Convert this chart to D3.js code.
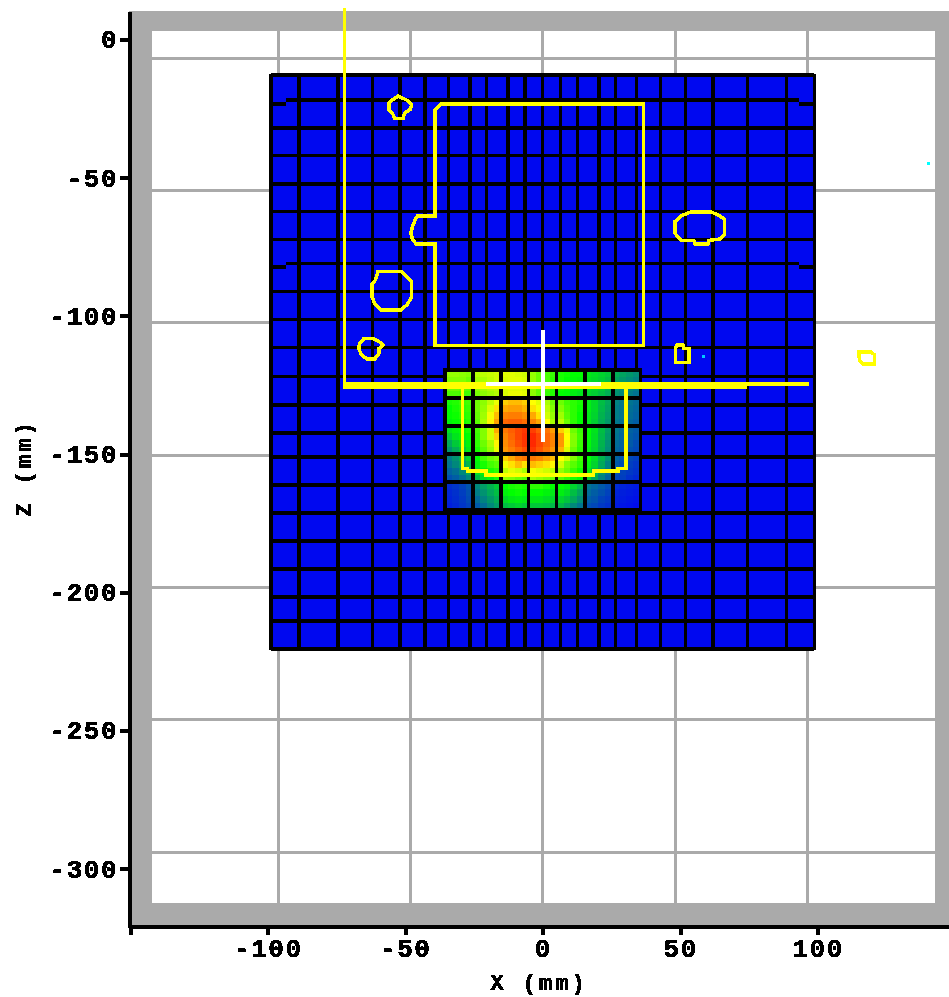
<!DOCTYPE html>
<html>
<head>
<meta charset="utf-8">
<script src="https://cdnjs.cloudflare.com/ajax/libs/d3/7.8.5/d3.min.js"></script>
<style>
  html, body { margin: 0; padding: 0; background: #fff; }
  svg { display: block; }
  .label text, .tick text { font-family: "Liberation Mono", monospace; font-weight: bold; fill: #000; stroke: #000; stroke-width: 0.7px; }
</style>
</head>
<body>
<div id="graph"></div>
<script>
// Axis ticks and grid lines (mm). The grid is not aligned with the ticks in the original.
const xTicks = [-150, -100, -50, 0, 50, 100];
const yTicks = [0, -50, -100, -150, -200, -250, -300];
const xGridLines = [-100, -50, 0, 50, 100];
const yGridLines = [0, -50, -100, -150, -200, -250, -300];

// Coarse mesh (mm)
const meshCols = [-98.8, -88.7, -74.5, -62, -52, -42.9, -34.2, -26.5, -20.4, -12.6, -6.4, 0,
  6.4, 12.6, 20.4, 26.5, 34.2, 42.9, 52, 62, 74.5, 88.7, 98.8];
const meshRows = [-12.9, -21.9, -32, -42.1, -52.3, -62.4, -72.5, -81.2, -91.4, -101.5, -111.7, -122.1,
  -132.4, -142.6, -151.3, -161.4, -171.6, -181.7, -191.8, -202, -210.7, -220.8];
const jogRows = [-21.9, -81.2];
const jogOffset = -1.4;
const jogEnd = 93.4;

// Fine mesh around the source (mm)
const patchCols = [-35.6, -25.3, -15.1, -5.1, 5.1, 15.3, 25.5, 35.5];
const patchRows = [-119.7, -129.9, -140, -150.2, -160.3, -170.5];

// Field values in the fine mesh, four samples per tile (percent)
const fieldValues = [
  [64, 64, 63, 62, 67, 68, 69, 70, 72, 72, 71, 70, 64, 60, 57, 55, 52, 51, 50, 50, 46, 44, 42, 40, 35, 33, 31, 29],
  [62, 62, 62, 60, 65, 66, 68, 70, 71, 72, 72, 71, 64, 60, 57, 54, 52, 50, 49, 48, 45, 43, 41, 38, 33, 31, 29, 27],
  [60, 60, 59, 58, 63, 65, 67, 68, 71, 72, 72, 71, 63, 59, 56, 53, 51, 50, 48, 47, 44, 42, 40, 36, 31, 29, 28, 26],
  [57, 57, 56, 56, 61, 63, 65, 67, 71, 73, 73, 72, 63, 59, 55, 53, 50, 49, 47, 45, 43, 41, 38, 35, 30, 28, 26, 24],
  [52, 53, 55, 56, 60, 63, 68, 73, 80, 82, 82, 80, 75, 72, 66, 60, 60, 56, 54, 52, 47, 43, 38, 34, 27, 25, 24, 22],
  [50, 52, 54, 55, 60, 64, 71, 78, 84, 85, 85, 83, 78, 74, 68, 62, 62, 57, 54, 51, 47, 43, 37, 33, 26, 24, 23, 21],
  [50, 51, 53, 54, 59, 65, 74, 82, 88, 89, 89, 87, 84, 78, 70, 64, 65, 58, 54, 50, 46, 42, 36, 32, 26, 24, 22, 20],
  [48, 50, 51, 53, 58, 66, 76, 85, 92, 93, 93, 91, 88, 84, 75, 66, 68, 60, 54, 50, 46, 41, 35, 31, 25, 23, 21, 19],
  [45, 48, 50, 52, 56, 62, 70, 84, 90, 93, 96, 98, 97, 93, 90, 85, 80, 73, 60, 55, 50, 45, 38, 32, 25, 22, 20, 18],
  [40, 45, 48, 50, 55, 62, 70, 80, 88, 92, 96, 99, 100, 96, 92, 88, 86, 75, 62, 56, 50, 44, 37, 31, 24, 21, 19, 17],
  [34, 40, 44, 48, 54, 60, 66, 76, 87, 91, 95, 98, 100, 96, 92, 88, 86, 74, 62, 55, 49, 43, 36, 30, 22, 20, 18, 15],
  [30, 35, 40, 46, 52, 58, 64, 73, 86, 89, 92, 95, 98, 94, 90, 86, 83, 71, 60, 54, 48, 42, 35, 29, 21, 19, 16, 14],
  [26, 30, 35, 42, 50, 56, 60, 62, 80, 84, 88, 90, 90, 88, 85, 82, 75, 70, 62, 56, 50, 44, 36, 30, 20, 17, 14, 12],
  [24, 28, 32, 37, 48, 52, 56, 58, 74, 78, 82, 78, 82, 80, 78, 76, 70, 62, 58, 54, 48, 42, 34, 27, 18, 15, 12, 10],
  [20, 23, 28, 33, 44, 48, 52, 54, 68, 72, 70, 66, 74, 72, 70, 68, 64, 60, 55, 51, 46, 38, 30, 24, 16, 13, 11, 9],
  [16, 19, 23, 28, 38, 44, 48, 52, 63, 62, 60, 58, 66, 64, 62, 60, 58, 55, 52, 50, 43, 34, 27, 21, 14, 12, 9, 7],
  [8, 10, 13, 17, 28, 32, 36, 40, 50, 52, 53, 52, 54, 54, 52, 50, 50, 48, 42, 37, 24, 21, 18, 15, 8, 6, 5, 4],
  [7, 9, 12, 16, 26, 30, 34, 38, 48, 50, 51, 50, 50, 50, 48, 46, 47, 44, 38, 33, 22, 19, 16, 13, 6, 5, 4, 3],
  [6, 8, 11, 15, 22, 27, 31, 35, 43, 46, 47, 46, 46, 46, 44, 42, 42, 39, 34, 29, 19, 17, 13, 11, 5, 4, 3, 2],
  [5, 7, 10, 13, 18, 23, 28, 32, 38, 40, 42, 40, 40, 40, 39, 37, 37, 33, 28, 24, 16, 14, 11, 9, 4, 3, 2, 1]
];

// Structure contours (mm)
const bodyContour = [[-39.1, -25.5], [-37.1, -23.4], [36.7, -23.4], [36.7, -110.9], [-39.1, -110.9], [-39.1, -74.1],
  [-46, -74.1], [-47.3, -72.6], [-48, -70.1], [-47.3, -67.6], [-46.4, -65.4], [-45.6, -63.9], [-39.1, -63.9]];
const contour1 = [[-52.6, -20.5], [-49.6, -21.9], [-47.7, -23.7], [-48.1, -25.3], [-50.2, -26.7], [-50.8, -28.6],
  [-53.8, -28.6], [-54.7, -26.7], [-56, -25.5], [-56, -23.1], [-54.4, -21.7]];
const contour2 = [[-59.9, -84], [-51.4, -84], [-49.6, -85.9], [-47.7, -87.8], [-47.7, -93.4], [-49.2, -95.9],
  [-51.4, -98], [-59, -98], [-61.1, -95.9], [-62.1, -93.2], [-62.1, -88.6], [-60.8, -87.1]];
const contour3 = [[-65, -108.3], [-61.7, -108.3], [-59.5, -109.5], [-58.1, -110.8], [-59.5, -111.9], [-59.5, -113.7],
  [-60.5, -114.9], [-61.1, -115.8], [-63.9, -115.8], [-65.9, -114.3], [-67, -111.9], [-66.5, -110.1]];
const contour4 = [[53.8, -62.6], [61.5, -62.6], [64.1, -63.8], [66.1, -65.1], [66.1, -70.6], [64.4, -72.3],
  [60.5, -72.8], [60.1, -74.2], [55.4, -74.2], [55, -72.8], [50.4, -72.8], [49.2, -71.5], [48.1, -70.2],
  [48.1, -66], [49.2, -65.1], [50.4, -63.8]];
const contour5 = [[48.8, -110.7], [51, -110.7], [51.3, -111.9], [53.2, -111.9], [53.2, -117.1], [48.3, -117.1], [48.3, -111.7]];
const contour6 = [[114.9, -113.2], [119.5, -113.2], [120.7, -114.3], [120.7, -117.6], [116.5, -117.6], [115.3, -116.4]];
const closedContours = [bodyContour, contour1, contour2, contour3, contour4, contour5, contour6];

const lowerContour = [[-29.1, -125.2], [-29.1, -155.4], [-27.4, -155.4], [-27.4, -156.4], [-20.7, -156.4], [-20.7, -157.8],
  [18.4, -157.8], [18.4, -156.4], [27.4, -156.4], [27.4, -155.4], [30.3, -155.4], [30.3, -125.2]];
const beamEdgeV = [[-72.2, 11.4], [-72.2, -124.8]];
const beamEdgeH = [[-72.7, -125.4], [74.2, -125.4]];
const beamEdgeHThin = [[74.2, -124.8], [96.7, -124.8]];
const crossH = [[-20.7, -124.8], [21.1, -124.8]];
const crossV = [[0, -105.3], [0, -145.8]];

const cyanPoints = [[58.4, -114.7, "#00c8ff"], [140.5, -44.9, "#00ffff"]];

const width = 949;
const height = 997;

const svg = d3.select('#graph')
  .append('svg')
  .attr('width', width)
  .attr('height', height);

// Scales
const x = d3.scaleLinear().domain([-150.5, 147.8]).range([129, 949]);
const y = d3.scaleLinear().domain([10.3, -321.2]).range([11, 926]);
const yTickScale = d3.scaleLinear().domain([10.3, -321.2]).range([11, 927.5]);
const xGrid = d3.scaleLinear().domain([-100, 100]).range([278, 807.5]);
const yGrid = d3.scaleLinear().domain([0, -300]).range([58, 852]);

const heatColor = d3.scaleLinear()
  .domain([0, 25, 50, 62, 75, 87, 100])
  .range(["#0008f0", "#00788c", "#00ff00", "#82ff00", "#ffff00", "#ff8c00", "#ff2800"]);

// Text is thresholded so it stays blocky like the bitmap font
const filter = svg.append('defs').append('filter').attr('id', 'blocky');
filter.append('feComponentTransfer')
  .append('feFuncA').attr('type', 'discrete').attr('tableValues', '0 1');

const plot = svg.append('g').attr('shape-rendering', 'crispEdges');

// Frame
plot.append('rect').attr('x', 129).attr('y', 11).attr('width', 820).attr('height', 915).attr('fill', '#aaaaaa');
plot.append('rect').attr('x', 152).attr('y', 31).attr('width', 783).attr('height', 872).attr('fill', '#ffffff');

// Grid
plot.selectAll('.gridx').data(xGridLines).join('line')
  .attr('x1', d => xGrid(d)).attr('x2', d => xGrid(d))
  .attr('y1', 31).attr('y2', 903)
  .attr('stroke', '#aaaaaa').attr('stroke-width', 3);
plot.selectAll('.gridy').data(yGridLines).join('line')
  .attr('x1', 152).attr('x2', 935)
  .attr('y1', d => yGrid(d)).attr('y2', d => yGrid(d))
  .attr('stroke', '#aaaaaa').attr('stroke-width', 3);

// Coarse mesh
plot.append('rect')
  .attr('x', x(meshCols[0])).attr('y', y(meshRows[0]))
  .attr('width', x(meshCols[meshCols.length - 1]) - x(meshCols[0]))
  .attr('height', y(meshRows[meshRows.length - 1]) - y(meshRows[0]))
  .attr('fill', '#0008f0');
plot.selectAll('.mesh-col').data(meshCols).join('line')
  .attr('x1', d => x(d)).attr('x2', d => x(d))
  .attr('y1', y(meshRows[0]) - 1.5).attr('y2', y(meshRows[meshRows.length - 1]) + 1.5)
  .attr('stroke', '#000').attr('stroke-width', 3.5);
plot.selectAll('.mesh-row').data(meshRows).join('line')
  .attr('x1', d => x(jogRows.includes(d) ? -jogEnd : meshCols[0]))
  .attr('x2', d => x(jogRows.includes(d) ? jogEnd : meshCols[meshCols.length - 1]))
  .attr('y1', d => y(d)).attr('y2', d => y(d))
  .attr('stroke', '#000').attr('stroke-width', 3.5);
[-1, 1].forEach(side => {
  plot.selectAll(null).data(jogRows).join('line')
    .attr('x1', x(side * jogEnd)).attr('x2', x(side * meshCols[meshCols.length - 1]))
    .attr('y1', d => y(d + jogOffset)).attr('y2', d => y(d + jogOffset))
    .attr('stroke', '#000').attr('stroke-width', 4);
});

// Fine mesh field
const patchX = d3.scaleBand().domain(d3.range(fieldValues[0].length))
  .range([x(patchCols[0]), x(patchCols[patchCols.length - 1])]);
const patchY = d3.scaleBand().domain(d3.range(fieldValues.length))
  .range([y(patchRows[0]), y(patchRows[patchRows.length - 1])]);

plot.append('g').selectAll('g').data(fieldValues).join('g')
  .attr('transform', (d, i) => `translate(0,${patchY(i)})`)
  .selectAll('rect').data(d => d).join('rect')
    .attr('x', (d, i) => patchX(i))
    .attr('width', patchX.bandwidth() + 0.5)
    .attr('height', patchY.bandwidth() + 0.5)
    .attr('fill', d => heatColor(d));
plot.selectAll('.patch-col').data(patchCols).join('line')
  .attr('x1', d => x(d)).attr('x2', d => x(d))
  .attr('y1', y(patchRows[0]) - 2).attr('y2', y(patchRows[patchRows.length - 1]) + 2)
  .attr('stroke', '#000').attr('stroke-width', 3.5);
plot.selectAll('.patch-row').data(patchRows).join('line')
  .attr('x1', x(patchCols[0]) - 1.5).attr('x2', x(patchCols[patchCols.length - 1]) + 1.5)
  .attr('y1', d => y(d)).attr('y2', d => y(d))
  .attr('stroke', '#000').attr('stroke-width', 4);

// Contours and beam lines
const line = d3.line().x(d => x(d[0])).y(d => y(d[1]));
const closedLine = d3.line().x(d => x(d[0])).y(d => y(d[1])).curve(d3.curveLinearClosed);

plot.selectAll('.contour').data(closedContours).join('path')
  .attr('d', closedLine)
  .attr('fill', 'none').attr('stroke', '#ffff00').attr('stroke-width', 3.5);
plot.append('path').attr('d', line(lowerContour))
  .attr('fill', 'none').attr('stroke', '#ffff00').attr('stroke-width', 3.5);
plot.append('path').attr('d', line(beamEdgeV))
  .attr('fill', 'none').attr('stroke', '#ffff00').attr('stroke-width', 3);
plot.append('path').attr('d', line(beamEdgeH))
  .attr('fill', 'none').attr('stroke', '#ffff00').attr('stroke-width', 7);
plot.append('path').attr('d', line(beamEdgeHThin))
  .attr('fill', 'none').attr('stroke', '#ffff00').attr('stroke-width', 4);
plot.append('path').attr('d', line(crossH))
  .attr('fill', 'none').attr('stroke', '#ffffff').attr('stroke-width', 4);
plot.append('path').attr('d', line(crossV))
  .attr('fill', 'none').attr('stroke', '#ffffff').attr('stroke-width', 4);

plot.selectAll('.cyan').data(cyanPoints).join('rect')
  .attr('x', d => x(d[0]) - 1.5).attr('y', d => y(d[1]) - 1.5)
  .attr('width', 3).attr('height', 3)
  .attr('fill', d => d[2]);

// Axes
const fmt = d => d === -150 ? '' : String(d);

const xAxis = svg.append('g')
  .attr('transform', 'translate(0,926)')
  .attr('filter', 'url(#blocky)')
  .call(d3.axisBottom(x).tickValues(xTicks).tickFormat(fmt).tickSize(9).tickSizeOuter(0).tickPadding(4));
const yAxis = svg.append('g')
  .attr('transform', 'translate(129,0)')
  .attr('filter', 'url(#blocky)')
  .call(d3.axisLeft(yTickScale).tickValues(yTicks).tickFormat(d => String(d)).tickSize(9).tickSizeOuter(0).tickPadding(2));

[xAxis, yAxis].forEach(axis => {
  axis.attr('shape-rendering', 'crispEdges');
  axis.select('.domain').attr('stroke', '#000').attr('stroke-width', 4);
  axis.selectAll('.tick line').attr('stroke', '#000').attr('stroke-width', 4);
  axis.selectAll('.tick text')
    .style('font-size', '26px')
    .style('letter-spacing', '1.5px')
    .attr('font-family', null);
});

// Axis titles
const labels = svg.append('g').attr('class', 'label').attr('filter', 'url(#blocky)');
labels.append('text')
  .attr('x', 539).attr('y', 990)
  .attr('text-anchor', 'middle')
  .style('font-size', '22px')
  .style('letter-spacing', '3px')
  .text('X (mm)');
labels.append('text')
  .attr('transform', 'translate(31,468) rotate(-90)')
  .attr('text-anchor', 'middle')
  .style('font-size', '22px')
  .style('letter-spacing', '3px')
  .text('Z (mm)');
</script>
</body>
</html>
